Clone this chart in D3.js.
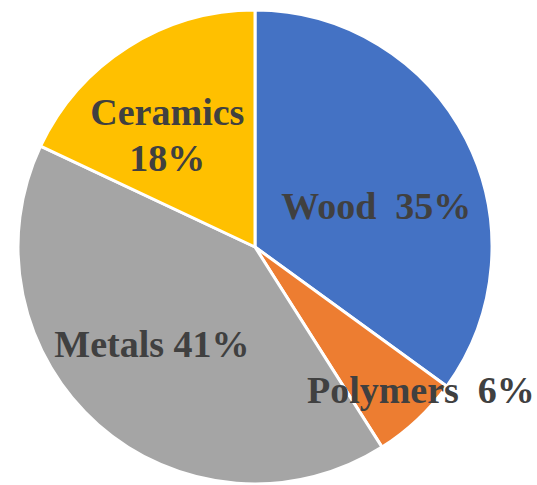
<!DOCTYPE html>
<html>
<head>
<meta charset="utf-8">
<script src="https://cdn.jsdelivr.net/npm/d3@7/dist/d3.min.js"></script>
<style>
  html, body { margin: 0; padding: 0; background: #ffffff; }
  svg { display: block; }
</style>
</head>
<body>
<svg id="chart" width="537" height="485"></svg>
<script>
// Data
const categories = ["Wood", "Polymers", "Metals", "Ceramics"];
const values = [35, 6, 41, 18];
const labelLines = [["Wood  35%"], ["Polymers  6%"], ["Metals 41%"], ["Ceramics", "18%"]];
const colors = ["#4472C4", "#ED7D31", "#A5A5A5", "#FFC000"];

// Layout
const W = 537, H = 485;
const cx = 255, cy = 247, R = 237;
// label anchor: position relative to centre, in units of radius (layout, not data)
const labelPos = {
  "Wood":     [0.512, -0.175],
  "Polymers": [0.700, 0.600],
  "Metals":   [-0.435, 0.410],
  "Ceramics": [-0.370, -0.475]
};

const data = categories.map((c, i) => ({ cat: c, value: values[i], lines: labelLines[i], color: colors[i] }));

const svg = d3.select("#chart");
const g = svg.append("g").attr("transform", `translate(${cx},${cy})`);

const pie = d3.pie().value(d => d.value).sort(null);
const arc = d3.arc().innerRadius(0).outerRadius(R);

const arcs = pie(data);

g.selectAll("path.slice")
  .data(arcs)
  .join("path")
  .attr("class", "slice")
  .attr("d", arc)
  .attr("fill", d => d.data.color)
  .attr("stroke", "#ffffff")
  .attr("stroke-width", 3)
  .attr("stroke-linejoin", "round");

const fontSize = 38;
const lab = g.selectAll("text.lbl")
  .data(arcs)
  .join("text")
  .attr("class", "lbl")
  .attr("text-anchor", "middle")
  .attr("font-family", "'Liberation Serif', 'Times New Roman', serif")
  .attr("font-weight", "bold")
  .attr("font-size", fontSize)
  .attr("fill", "#404040")
  .style("white-space", "pre")
  .attr("x", d => labelPos[d.data.cat][0] * R)
  .attr("y", d => labelPos[d.data.cat][1] * R);

lab.each(function(d) {
  const t = d3.select(this);
  const n = d.data.lines.length;
  d.data.lines.forEach((line, i) => {
    t.append("tspan")
      .attr("x", labelPos[d.data.cat][0] * R)
      .attr("dy", i === 0 ? `${0.35 - (n - 1) * 0.6}em` : "1.2em")
      .text(line);
  });
});
</script>
</body>
</html>
